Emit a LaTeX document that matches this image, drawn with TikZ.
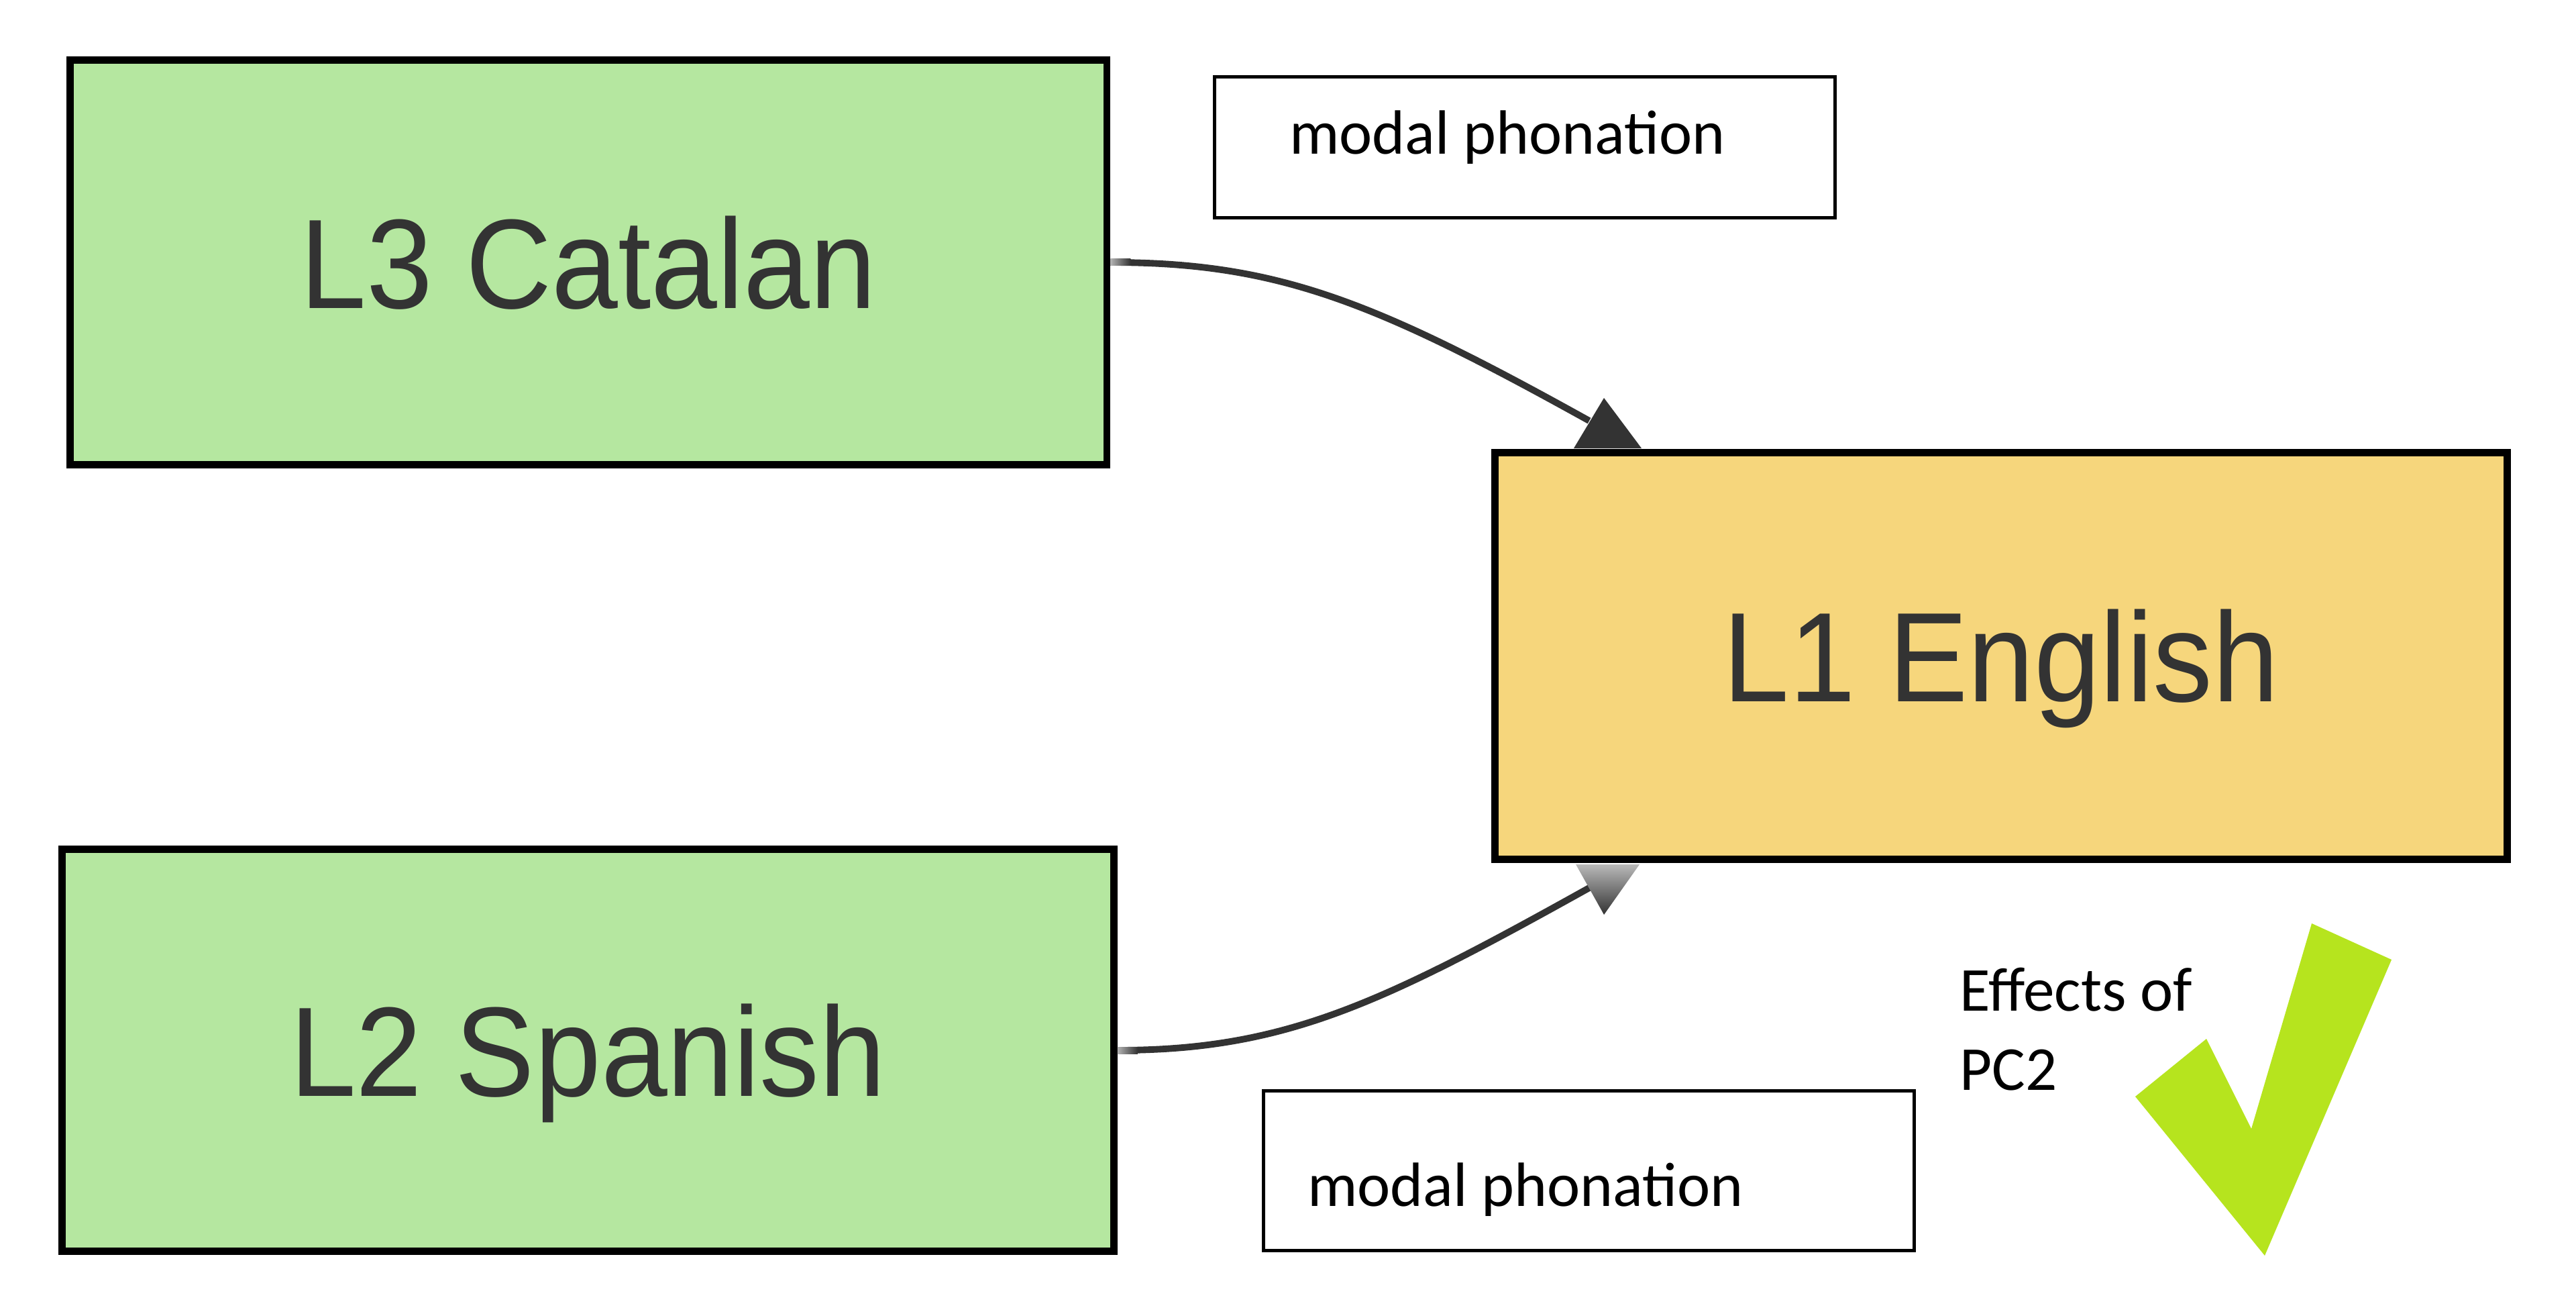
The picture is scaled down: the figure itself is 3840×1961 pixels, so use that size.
\documentclass[tikz,border=0pt]{standalone}
\usepackage{fontspec}
\newfontfamily\lblfont[FakeStretch=0.935]{Liberation Sans}
\newfontfamily\calfont{Carlito}
\usetikzlibrary{calc}
\definecolor{textgray}{HTML}{333333}
\definecolor{boxgreen}{RGB}{181,231,160}
\definecolor{boxyellow}{RGB}{246,214,124}
\definecolor{checkgreen}{RGB}{182,228,30}
\tikzset{
  langbox/.style={draw=black, line width=3.1pt, inner sep=0pt, text height=38.7pt, text depth=0pt,
    font=\lblfont\fontsize{54}{60}\selectfont, text=textgray},
  notebox/.style={draw=black, line width=1.4pt, fill=white, inner sep=0pt},
  notetext/.style={inner sep=0pt, font=\calfont\fontsize{26.5}{33.3}\selectfont, text=black},
  conn/.style={draw=textgray, line width=2.8pt},
}
\begin{document}
\begin{tikzpicture}[x=0.01cm,y=-0.01cm]
\useasboundingbox[fill=white] (0,0) rectangle (3840,1961);
% connectors (under the boxes)
\coordinate (t1) at (2369,627);
\coordinate (t2) at (2369,1323);
% language boxes
\node[langbox, fill=boxgreen, minimum width=15.45cm, minimum height=6.03cm] (cat) at (877,391) {L3 Catalan};
\node[langbox, fill=boxgreen, minimum width=15.67cm, minimum height=5.98cm] (spa) at (876.5,1565) {L2 Spanish};
\node[langbox, fill=boxyellow, minimum width=15.08cm, minimum height=6.05cm] (eng) at (2983,977.5) {L1 English};
% note boxes
\node[notebox, minimum width=9.25cm, minimum height=2.10cm] (m1) at (2273,219.5) {};
\node[notebox, minimum width=9.70cm, minimum height=2.38cm] (m2) at (2368.5,1744.5) {};
\node[notetext, anchor=base] (m1t) at (2247,230) {modal phonation};
\node[notetext, anchor=base] (m2t) at (2274,1797) {modal phonation};
\node[notetext, anchor=base west, align=left] (eff) at (2921,1624) {Effects of\\PC2};
% connectors
\draw[conn] (cat.east) .. controls +(250,0) and (2050,450) .. (t1);
\draw[conn] (spa.east) .. controls +(250,0) and (2060,1495) .. (t2);
\shade[left color=gray!60, right color=textgray] ($(cat.east)+(0,-5)$) rectangle ($(cat.east)+(30,5)$);
\shade[left color=gray!60, right color=textgray] ($(spa.east)+(0,-5)$) rectangle ($(spa.east)+(30,5)$);
% arrow heads
\fill[textgray] (2391,593) -- (2447,668) -- (2346,668) -- cycle;
\shade[top color=gray!55, bottom color=textgray] (2349,1288) -- (2444,1288) -- (2391,1363) -- cycle;
% check mark
\fill[checkgreen] (3446,1376) -- (3565,1430) -- (3376,1871) -- (3183,1634) -- (3289,1548) -- (3356,1682) -- cycle;
\end{tikzpicture}
\end{document}
